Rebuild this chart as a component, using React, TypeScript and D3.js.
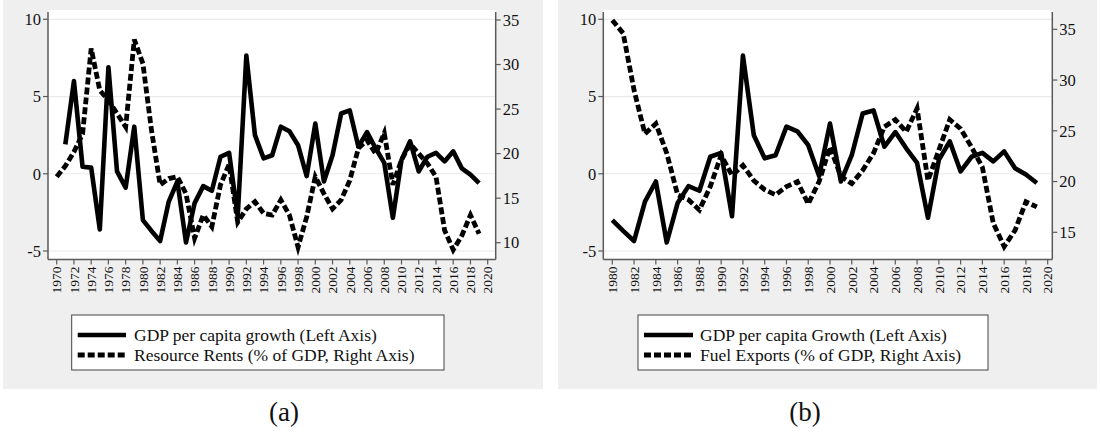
import React from "react";
import * as d3 from "d3";

// ---------- DATA ----------
const gdpYears = d3.range(1971, 2020);
const gdpGrowth = [
  1.9, 6.0, 0.45, 0.4, -3.6, 6.9, 0.15, -0.9, 3.05, -3.0,
  -3.7, -4.35, -1.8, -0.5, -4.45, -1.9, -0.8, -1.1, 1.1, 1.35,
  -2.75, 7.65, 2.5, 1.0, 1.2, 3.05, 2.75, 1.85, -0.15, 3.25,
  -0.5, 1.2, 3.9, 4.1, 1.75, 2.7, 1.65, 0.7, -2.85, 0.9,
  2.1, 0.15, 1.1, 1.35, 0.8, 1.45, 0.35, -0.05, -0.6,
];

const rentYears = d3.range(1970, 2020);
const resourceRents = [
  17.4, 18.6, 20.2, 22.2, 31.8, 27.1, 26.0, 24.5, 23.0, 32.8,
  30.1, 22.6, 16.5, 17.2, 17.4, 15.5, 10.5, 13.1, 11.8, 16.5,
  18.8, 12.3, 13.8, 14.6, 13.3, 13.1, 14.8, 13.1, 9.5, 12.9,
  17.4, 15.5, 13.8, 14.8, 17.0, 20.6, 21.5, 20.0, 22.3, 16.5,
  19.3, 21.1, 20.0, 18.9, 17.4, 11.4, 9.2, 10.8, 13.1, 11.0,
];

const fuelYears = d3.range(1980, 2020);
const fuelExports = [
  35.9, 34.6, 29.0, 24.7, 25.7, 22.8, 18.7, 18.2, 17.2, 19.5,
  22.6, 20.6, 21.6, 20.1, 19.2, 18.7, 19.5, 20.0, 17.8, 20.0,
  23.4, 20.5, 19.8, 21.1, 22.8, 25.4, 26.1, 24.9, 27.2, 20.1,
  23.1, 26.1, 25.2, 23.4, 21.4, 15.9, 13.6, 15.2, 18.0, 17.5,
];

const leftTicks = [-5, 0, 5, 10];
const rightTicksA = [10, 15, 20, 25, 30, 35];
const rightTicksB = [15, 20, 25, 30, 35];
const yearTicksA = d3.range(1970, 2021, 2);
const yearTicksB = d3.range(1980, 2021, 2);

const legendA = ["GDP per capita growth (Left Axis)", "Resource Rents (% of GDP, Right Axis)"];
const legendB = ["GDP per capita Growth (Left Axis)", "Fuel Exports (% of GDP, Right Axis)"];

const FONT = "'Liberation Serif', 'Times New Roman', serif";
const AXIS = "#5a5a5a";

type PanelProps = {
  bg: [number, number];
  plot: [number, number];
  xDomain: [number, number];
  xRange: [number, number];
  rDomain: [number, number];
  rRange: [number, number];
  rTicks: number[];
  yearTicks: number[];
  gdpStart: number;
  dashYears: number[];
  dashValues: number[];
  legend: string[];
  legendBox: [number, number];
  legendLineX: [number, number];
  legendTextX: number;
  caption: string;
  captionX: number;
};

function Panel(p: PanelProps) {
  const x = d3.scaleLinear().domain(p.xDomain).range(p.xRange);
  const yL = d3.scaleLinear().domain([-5, 10]).range([251, 19.3]);
  const yR = d3.scaleLinear().domain(p.rDomain).range(p.rRange);
  const plotTop = 10;
  const plotBottom = 259.5;

  const gdpPts: [number, number][] = gdpYears
    .map((yr, i) => [yr, gdpGrowth[i]] as [number, number])
    .filter((d) => d[0] >= p.gdpStart);
  const solid = d3
    .line<[number, number]>()
    .x((d) => x(d[0]))
    .y((d) => yL(d[1]))(gdpPts);
  const dashPts: [number, number][] = p.dashYears.map((yr, i) => [yr, p.dashValues[i]]);
  const dashed = d3
    .line<[number, number]>()
    .x((d) => x(d[0]))
    .y((d) => yR(d[1]))(dashPts);

  const [px0, px1] = p.plot;
  return (
    <g>
      <rect x={p.bg[0]} y={0} width={p.bg[1] - p.bg[0]} height={389} fill="#efefef" />
      <rect x={px0} y={plotTop} width={px1 - px0} height={plotBottom - plotTop} fill="#ffffff" />
      {leftTicks.map((t) => (
        <line key={"g" + t} x1={px0} x2={px1} y1={yL(t)} y2={yL(t)} stroke="#eaeaea" strokeWidth={1.2} />
      ))}
      <path d={dashed || ""} fill="none" stroke="#000" strokeWidth={4.8} strokeDasharray="7 3" />
      <path d={solid || ""} fill="none" stroke="#000" strokeWidth={4.6} strokeLinejoin="round" />
      {/* axes */}
      <line x1={px0} x2={px0} y1={plotTop + 2} y2={plotBottom} stroke={AXIS} strokeWidth={1.5} />
      <line x1={px1} x2={px1} y1={plotTop + 2} y2={plotBottom} stroke={AXIS} strokeWidth={1.5} />
      <line x1={px0} x2={px1} y1={plotBottom} y2={plotBottom} stroke={AXIS} strokeWidth={1.5} />
      {leftTicks.map((t) => (
        <g key={"l" + t}>
          <line x1={px0 - 5} x2={px0} y1={yL(t)} y2={yL(t)} stroke={AXIS} strokeWidth={1.2} />
          <text x={px0 - 7} y={yL(t)} dy="0.35em" textAnchor="end" fontFamily={FONT} fontSize={16.5} fill="#111">
            {t}
          </text>
        </g>
      ))}
      {p.rTicks.map((t) => (
        <g key={"r" + t}>
          <line x1={px1} x2={px1 + 5} y1={yR(t)} y2={yR(t)} stroke={AXIS} strokeWidth={1.2} />
          <text x={px1 + 7} y={yR(t)} dy="0.35em" textAnchor="start" fontFamily={FONT} fontSize={16.5} fill="#111">
            {t}
          </text>
        </g>
      ))}
      {p.yearTicks.map((t) => (
        <g key={"x" + t}>
          <line x1={x(t)} x2={x(t)} y1={plotBottom} y2={plotBottom + 5} stroke={AXIS} strokeWidth={1.2} />
          <text
            transform={`translate(${x(t)},${plotBottom + 7}) rotate(-90)`}
            dy="0.35em"
            textAnchor="end"
            fontFamily={FONT}
            fontSize={13.5}
            fill="#111"
          >
            {t}
          </text>
        </g>
      ))}
      {/* legend */}
      <rect
        x={p.legendBox[0]}
        y={315}
        width={p.legendBox[1] - p.legendBox[0]}
        height={55}
        fill="#fff"
        stroke="#444"
        strokeWidth={1}
      />
      <line x1={p.legendLineX[0]} x2={p.legendLineX[1]} y1={335} y2={335} stroke="#000" strokeWidth={4.6} />
      <line
        x1={p.legendLineX[0]}
        x2={p.legendLineX[1]}
        y1={355}
        y2={355}
        stroke="#000"
        strokeWidth={4.8}
        strokeDasharray="7 3"
      />
      <text x={p.legendTextX} y={341} fontFamily={FONT} fontSize={17.5} fill="#111">
        {p.legend[0]}
      </text>
      <text x={p.legendTextX} y={361} fontFamily={FONT} fontSize={17.5} fill="#111">
        {p.legend[1]}
      </text>
      <text x={p.captionX} y={421} textAnchor="middle" fontFamily={FONT} fontSize={27} fill="#111">
        {p.caption}
      </text>
    </g>
  );
}

export default function App() {
  return (
    <svg width={1100} height={434} style={{ position: "absolute", left: 0, top: 0, background: "#fff" }}>
      <Panel
        bg={[3, 543]}
        plot={[48, 495.7]}
        xDomain={[1970, 2020]}
        xRange={[56.7, 487.7]}
        rDomain={[10, 35]}
        rRange={[242.7, 20]}
        rTicks={rightTicksA}
        yearTicks={yearTicksA}
        gdpStart={1971}
        dashYears={rentYears}
        dashValues={resourceRents}
        legend={legendA}
        legendBox={[71.7, 444]}
        legendLineX={[77.7, 126]}
        legendTextX={134}
        caption="(a)"
        captionX={284}
      />
      <Panel
        bg={[558, 1097]}
        plot={[603.3, 1052.3]}
        xDomain={[1980, 2020]}
        xRange={[612.3, 1047.7]}
        rDomain={[15, 35]}
        rRange={[232.3, 29.3]}
        rTicks={rightTicksB}
        yearTicks={yearTicksB}
        gdpStart={1980}
        dashYears={fuelYears}
        dashValues={fuelExports}
        legend={legendB}
        legendBox={[638, 988]}
        legendLineX={[644, 693]}
        legendTextX={700}
        caption="(b)"
        captionX={805}
      />
    </svg>
  );
}
